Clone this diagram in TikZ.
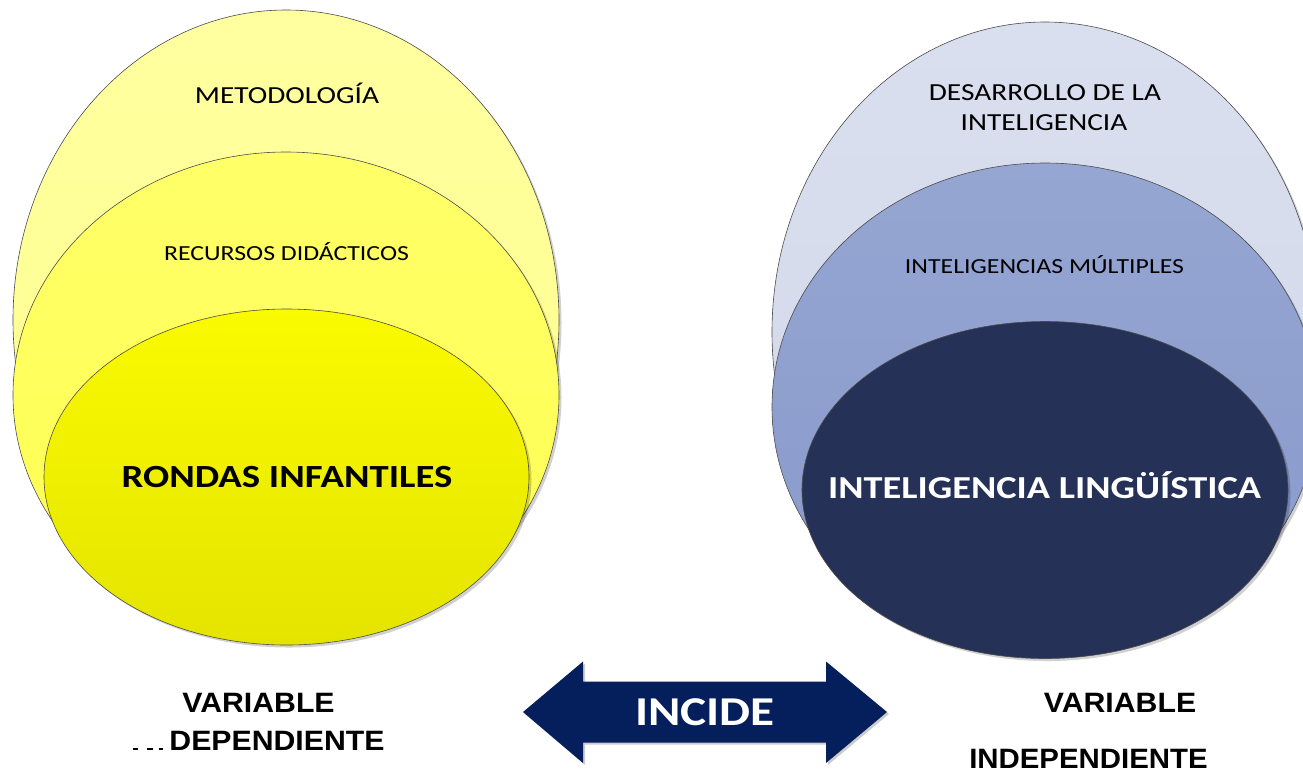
\documentclass[tikz,border=0pt]{standalone}
\usepackage{graphicx}
\usepackage{fontspec}
\setmainfont{Carlito}
\newfontfamily\labfont{Liberation Sans}
\usetikzlibrary{shapes.geometric,shadows}
\definecolor{yOutT}{RGB}{255,255,160}
\definecolor{yOutB}{RGB}{255,255,140}
\definecolor{yMidT}{RGB}{255,255,105}
\definecolor{yMidB}{RGB}{255,255,80}
\definecolor{yInT}{RGB}{250,250,0}
\definecolor{yInB}{RGB}{228,228,0}
\definecolor{bOutT}{RGB}{218,223,239}
\definecolor{bOutB}{RGB}{210,216,234}
\definecolor{bMidT}{RGB}{150,166,210}
\definecolor{bMidB}{RGB}{135,153,204}
\definecolor{bIn}{RGB}{37,49,86}
\definecolor{arrowBlue}{RGB}{5,30,92}
\newcommand\wideTxt[1]{\scalebox{1.2}[1]{#1}}
\newcommand\wideLab[1]{\scalebox{1.08}[1]{#1}}
\begin{document}
\begin{tikzpicture}[x=1pt,y=-1pt,
  ell/.style={ellipse, inner sep=0pt, outer sep=0pt, draw=black!70, line width=0.6pt,
    drop shadow={shadow xshift=2.5pt, shadow yshift=-2.5pt, opacity=0.18, fill=black}},
  txtOut/.style={anchor=base, inner sep=0pt, font=\fontsize{24.5}{29}\selectfont},
  txtMid/.style={anchor=base, inner sep=0pt, font=\fontsize{21.5}{26}\selectfont},
  txtIn/.style={anchor=base, inner sep=0pt, font=\bfseries\fontsize{32.3}{38}\selectfont},
  varLab/.style={anchor=base, inner sep=0pt, font=\labfont\bfseries\fontsize{28}{33}\selectfont}
]
\useasboundingbox (0,0) rectangle (1303,772);
\clip (0,0) rectangle (1303,772);

% left group
\node[ell, top color=yOutT, bottom color=yOutB, minimum width=546pt, minimum height=620pt] (LO) at (286,320) {};
\node[ell, top color=yMidT, bottom color=yMidB, minimum width=546pt, minimum height=486pt] (LM) at (286,395) {};
\node[ell, top color=yInT, bottom color=yInB, minimum width=485pt, minimum height=336pt] (LI) at (286.5,477) {};

% right group
\node[ell, top color=bOutT, bottom color=bOutB, minimum width=546pt, minimum height=620pt] (RO) at (1045,332) {};
\node[ell, top color=bMidT, bottom color=bMidB, minimum width=546pt, minimum height=488pt] (RM) at (1045,407) {};
\node[ell, fill=bIn, minimum width=486pt, minimum height=337pt] (RI) at (1045,490) {};

% texts in ellipses
\node[txtOut] (tMet) at (287,103.5) {\wideTxt{METODOLOGÍA}};
\node[txtMid] (tRec) at (286.5,260) {\wideTxt{RECURSOS DIDÁCTICOS}};
\node[txtIn] (tRon) at (287,487) {\wideTxt{RONDAS INFANTILES}};

\node[txtOut] (tDes1) at (1045,100) {\wideTxt{DESARROLLO DE LA}};
\node[txtOut] (tDes2) at (1044,130) {\wideTxt{INTELIGENCIA}};
\node[txtMid] (tMul) at (1044.5,273) {\wideTxt{INTELIGENCIAS MÚLTIPLES}};
\node[txtIn, text=white, font=\bfseries\fontsize{32}{38}\selectfont] (tLin) at (1044.5,498) {\wideTxt{INTELIGENCIA LINGÜÍSTICA}};

% double arrow
\fill[arrowBlue, drop shadow={shadow xshift=2pt, shadow yshift=-2pt, opacity=0.2, fill=black}]
  (523,712) -- (583,661.5) -- (583,681.5) -- (826,681.5) -- (826,661.5) -- (887,712)
  -- (826,763) -- (826,742.5) -- (583,742.5) -- (583,763) -- cycle;
\node[anchor=base, inner sep=0pt, text=white, font=\bfseries\fontsize{41}{48}\selectfont] (tInc) at (705,725) {\wideTxt{INCIDE}};

% variable labels
\node[varLab] (vL1) at (258.5,712) {\wideLab{VARIABLE}};
\node[varLab] (vL2) at (277,750) {\wideLab{DEPENDIENTE}};
\node[varLab] (vR1) at (1120,712) {\wideLab{VARIABLE}};
\node[varLab] (vR2) at (1088.5,768) {\scalebox{1.05}[1]{INDEPENDIENTE}};

% clipped glyph remnants before DEPENDIENTE
\fill[black] (132.7,748) rectangle (138.3,750);
\fill[black] (146.7,748) rectangle (153.3,750);
\fill[black] (159.3,748) rectangle (162.7,750);
\end{tikzpicture}
\end{document}
